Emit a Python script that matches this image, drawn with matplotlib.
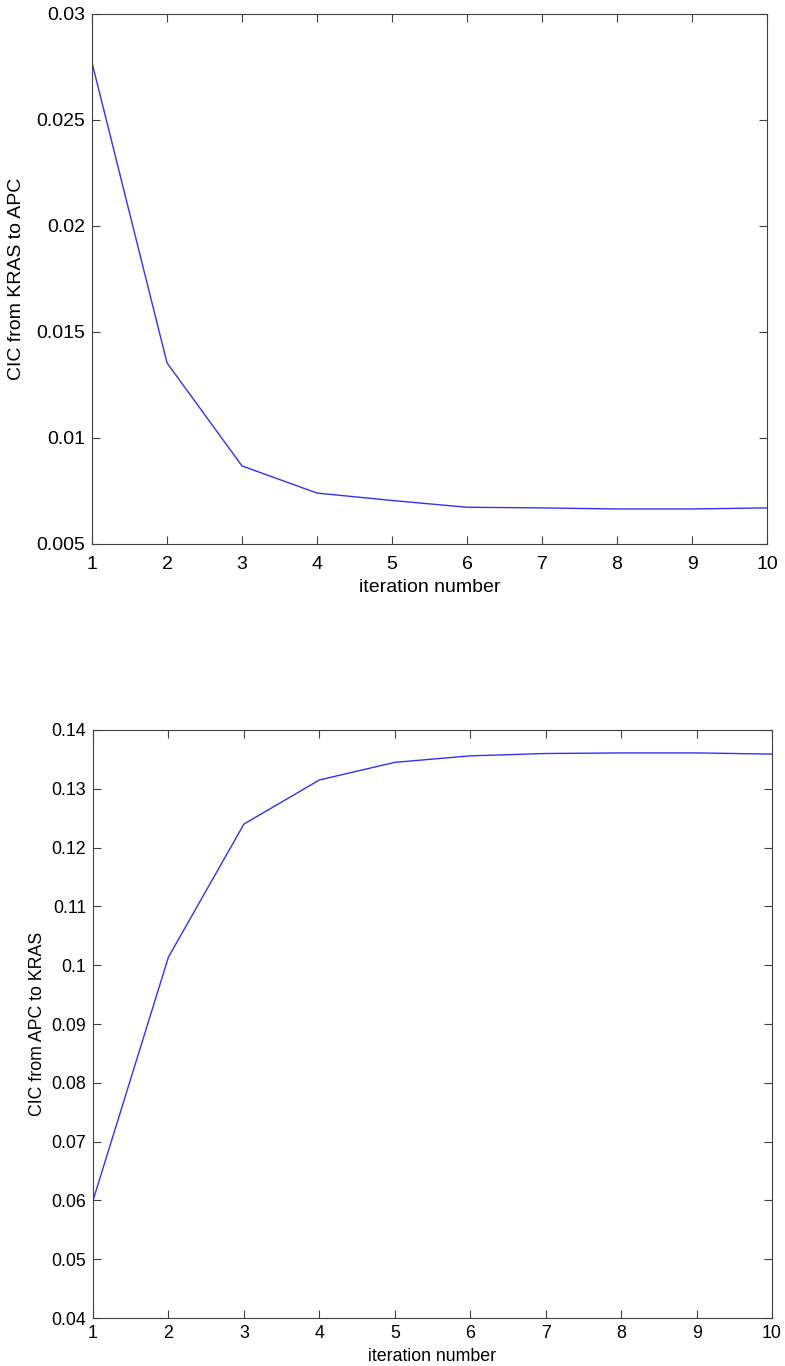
import matplotlib
matplotlib.use("Agg")
import matplotlib.pyplot as plt
from matplotlib.ticker import FuncFormatter, MultipleLocator

plt.rcParams["font.family"] = ["Liberation Sans", "DejaVu Sans"]

iterations = [1, 2, 3, 4, 5, 6, 7, 8, 9, 10]
cic_kras_to_apc = [0.0277, 0.01354, 0.00868, 0.0074, 0.00705, 0.00673, 0.0067, 0.00665, 0.00665, 0.0067]
cic_apc_to_kras = [0.0600, 0.1014, 0.1240, 0.1315, 0.1345, 0.1356, 0.1360, 0.1361, 0.1361, 0.1359]

fig = plt.figure(figsize=(7.85, 13.66), dpi=100)
fmt = FuncFormatter(lambda v, p: "%g" % round(v, 6))


def style(ax, ylim, ystep, ylabel, fs, xpad, xlpad, ylpad):
    ax.set_xlim(1, 10)
    ax.set_ylim(*ylim)
    ax.xaxis.set_major_locator(MultipleLocator(1))
    ax.yaxis.set_major_locator(MultipleLocator(ystep))
    ax.yaxis.set_major_formatter(fmt)
    ax.tick_params(direction="in", top=True, right=True, length=6, width=0.8,
                   color="#404040", labelsize=fs, pad=5)
    ax.tick_params(axis="x", pad=xpad)
    for s in ax.spines.values():
        s.set_color("#404040")
        s.set_linewidth(0.8)
    ax.set_xlabel("iteration number", fontsize=fs, labelpad=xlpad)
    ax.set_ylabel(ylabel, fontsize=fs, labelpad=ylpad)


ax1 = fig.add_axes([0.1172, 0.6018, 0.8599, 0.3880])
ax1.plot(iterations, cic_kras_to_apc, color="#3333ee", lw=1.0)
style(ax1, (0.005, 0.03), 0.005, "CIC from KRAS to APC", 14, 9, 4, 8)

ax2 = fig.add_axes([0.1185, 0.0351, 0.8650, 0.4305])
ax2.plot(iterations, cic_apc_to_kras, color="#3333ee", lw=1.0)
style(ax2, (0.04, 0.14), 0.01, "CIC from APC to KRAS", 12.8, 5, 4, 4)

fig.savefig("out.png", dpi=100, facecolor="white")
